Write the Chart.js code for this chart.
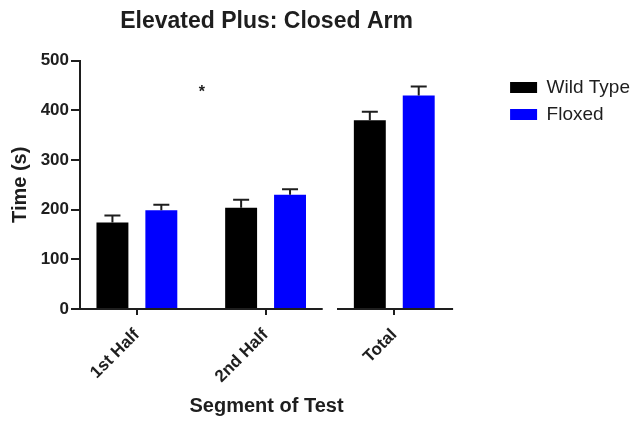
<!DOCTYPE html>
<html>
<head>
<meta charset="utf-8">
<script src="https://cdn.jsdelivr.net/npm/chart.js@4.4.1/dist/chart.umd.min.js"></script>
<style>
  html, body { margin: 0; padding: 0; background: #ffffff; }
  #wrap { width: 643px; height: 422px; }
</style>
</head>
<body>
<div id="wrap"><canvas id="c" width="643" height="422"></canvas></div>
<script>
// ---- data ----
const categories = ['1st Half', '2nd Half', 'Total'];
const seriesNames = ['Wild Type', 'Floxed'];
const wildType = [174, 204, 380];
const wildTypeErr = [14, 16, 17];
const floxed = [199, 230, 430];
const floxedErr = [11, 11, 18];
const yTicks = [0, 100, 200, 300, 400, 500];
const starLabel = '*';
const starAt = [0.504, 441];   // [x (category units), y (s)]

const FONT = "'Liberation Sans', Arial, Helvetica, sans-serif";
const INK = '#1e1e1e';

const errorBarPlugin = {
  id: 'errorBars',
  afterDatasetsDraw(chart) {
    const ctx = chart.ctx;
    const ys = chart.scales.y;
    ctx.save();
    chart.data.datasets.forEach((ds, di) => {
      const meta = chart.getDatasetMeta(di);
      meta.data.forEach((el, i) => {
        const top = ys.getPixelForValue(ds.data[i].y + ds.errors[i]);
        ctx.strokeStyle = INK;
        ctx.lineWidth = 2;
        ctx.beginPath();
        ctx.moveTo(el.x, el.y);
        ctx.lineTo(el.x, top);
        ctx.moveTo(el.x - 8, top);
        ctx.lineTo(el.x + 8, top);
        ctx.stroke();
      });
    });
    ctx.restore();
  }
};

const brokenAxisPlugin = {
  id: 'brokenAxis',
  afterDraw(chart, args, opts) {
    const ctx = chart.ctx;
    const xs = chart.scales.x;
    const y = chart.chartArea.bottom;
    ctx.save();
    ctx.strokeStyle = INK;
    ctx.lineWidth = 2;
    opts.segments.forEach(([a, b]) => {
      ctx.beginPath();
      ctx.moveTo(xs.getPixelForValue(a), y);
      ctx.lineTo(xs.getPixelForValue(b), y);
      ctx.stroke();
    });
    // significance marker
    ctx.fillStyle = INK;
    ctx.font = 'bold 16px ' + FONT;
    ctx.textAlign = 'center';
    ctx.textBaseline = 'middle';
    ctx.fillText(starLabel, xs.getPixelForValue(starAt[0]), chart.scales.y.getPixelForValue(starAt[1]) + 3);
    ctx.restore();
  }
};

new Chart(document.getElementById('c'), {
  type: 'bar',
  data: {
    datasets: [
      {
        label: seriesNames[0],
        data: wildType.map((v, i) => ({ x: i, y: v })),
        errors: wildTypeErr,
        backgroundColor: '#000000',
        borderColor: '#000000',
        borderWidth: 0
      },
      {
        label: seriesNames[1],
        data: floxed.map((v, i) => ({ x: i, y: v })),
        errors: floxedErr,
        backgroundColor: '#0000ff',
        borderColor: '#0000ff',
        borderWidth: 0
      }
    ]
  },
  options: {
    responsive: false,
    animation: false,
    devicePixelRatio: 1,
    categoryPercentage: 0.76,
    barPercentage: 0.653,
    layout: { padding: { top: 0, right: 3, bottom: 0, left: 0 } },
    scales: {
      x: {
        type: 'linear',
        offset: false,
        min: -0.442,
        max: 2.457,
        afterBuildTicks: (s) => { s.ticks = categories.map((_, i) => ({ value: i })); },
        afterFit: (s) => { s.height = 113; },
        border: { display: false },
        grid: { display: true, offset: false, drawOnChartArea: false, drawTicks: true, tickLength: 6, color: INK, lineWidth: 2 },
        ticks: {
          autoSkip: false,
          minRotation: 45,
          maxRotation: 45,
          padding: 10,
          color: INK,
          font: { family: FONT, size: 17, weight: 'bold' },
          callback: (v) => categories[v]
        },
        title: {
          display: true,
          text: 'Segment of Test',
          color: INK,
          font: { family: FONT, size: 20, weight: 'bold' },
          padding: { top: 0, bottom: 4 }
        }
      },
      y: {
        min: 0,
        max: 500,
        afterBuildTicks: (s) => { s.ticks = yTicks.map(v => ({ value: v })); },
        afterFit: (s) => { s.width = 80; },
        border: { display: true, color: INK, width: 2 },
        grid: { display: true, drawOnChartArea: false, drawTicks: true, tickLength: 9, color: INK, lineWidth: 2 },
        ticks: {
          padding: 2,
          color: INK,
          font: { family: FONT, size: 17, weight: 'bold' }
        },
        title: {
          display: true,
          text: 'Time (s)',
          color: INK,
          font: { family: FONT, size: 20, weight: 'bold' },
          padding: { top: 8, bottom: 0 }
        }
      },
      gap: {
        type: 'linear',
        position: 'right',
        display: true,
        afterFit: (s) => { s.width = 49; },
        border: { display: false },
        grid: { display: false },
        ticks: { display: false },
        title: { display: false }
      }
    },
    plugins: {
      title: {
        display: true,
        text: 'Elevated Plus: Closed Arm',
        fullSize: false,
        color: INK,
        font: { family: FONT, size: 23, weight: 'bold' },
        padding: { top: 8, bottom: 25 }
      },
      legend: {
        position: 'right',
        align: 'start',
        fullSize: false,
        maxWidth: 220,
        title: { display: true, text: ' ', font: { size: 9.5, lineHeight: 1 }, padding: 0 },
        labels: {
          boxWidth: 27,
          boxHeight: 11,
          padding: 8,
          color: INK,
          font: { family: FONT, size: 19 }
        }
      },
      tooltip: { enabled: false },
      brokenAxis: { segments: [[-0.442, 1.444], [1.555, 2.457]] }
    }
  },
  plugins: [errorBarPlugin, brokenAxisPlugin]
});
</script>
</body>
</html>
